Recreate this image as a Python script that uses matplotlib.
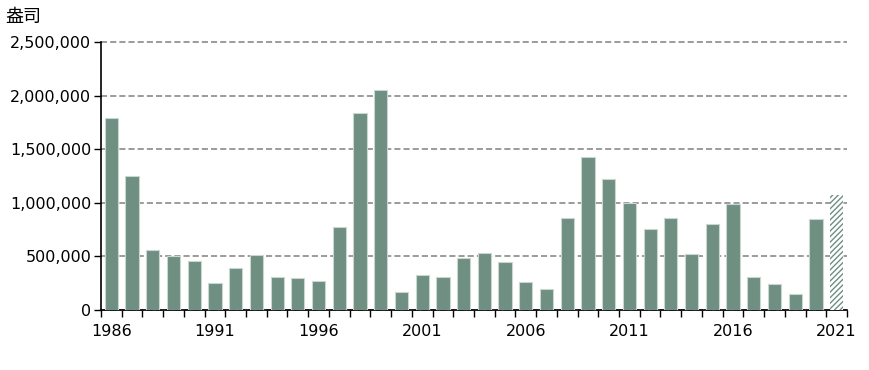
import matplotlib
matplotlib.use("Agg")
import matplotlib.pyplot as plt
import numpy as np
from matplotlib.ticker import FuncFormatter, MultipleLocator

plt.rcParams['font.family'] = ['DejaVu Sans', 'Noto Sans CJK SC']
plt.rcParams['hatch.linewidth'] = 1.0

years = list(range(1986, 2022))
values = [1790000, 1253000, 560000, 504000, 460000, 255000, 389000, 513000, 311000, 298000,
          274000, 771000, 1835000, 2055000, 165000, 323000, 311000, 485000, 535000, 448000,
          258000, 196000, 858000, 1430000, 1219000, 1001000, 753000, 855000, 522000, 799000,
          989000, 305000, 243000, 149000, 846000, 1073000]
forecast_year = 2021
unit_label = '盎司'

bar_color = '#6e8f82'

fig = plt.figure(figsize=(8.7, 3.7), dpi=100)
ax = fig.add_axes([101 / 870, 60 / 370, 746 / 870, 268 / 370])

x = np.arange(len(years))
for xi, yr, v in zip(x, years, values):
    if yr == forecast_year:
        ax.bar(xi, v, width=0.64, color='white', edgecolor=bar_color,
               hatch='//////', linewidth=0, zorder=3)
    else:
        ax.bar(xi, v, width=0.64, color=bar_color, edgecolor='#c9d7d0',
               linewidth=0.8, zorder=3)

ax.set_xlim(-0.5, len(years) - 0.5)
ax.set_ylim(0, 2500000)
ax.yaxis.set_major_locator(MultipleLocator(500000))
ax.yaxis.set_major_formatter(FuncFormatter(lambda v, p: f'{int(v):,}'))
ax.grid(axis='y', color='#808080', linestyle=(0, (4, 2)), linewidth=1.1, zorder=1)
ax.set_axisbelow(True)
for gl in ax.get_ygridlines():
    gl.set_clip_on(False)

label_idx = [i for i, yr in enumerate(years) if (yr - 1986) % 5 == 0]
ax.set_xticks(label_idx)
ax.set_xticklabels([str(years[i]) for i in label_idx])
ax.set_xticks(np.arange(-0.5, len(years)), minor=True)
ax.tick_params(axis='x', which='major', length=0, pad=10, labelsize=11.5)
ax.tick_params(axis='x', which='minor', length=5, width=1, color='black', direction='out')
ax.tick_params(axis='y', length=5, width=1, color='black', labelsize=11.5, pad=2)

for s in ['top', 'right']:
    ax.spines[s].set_visible(False)
for s in ['left', 'bottom']:
    ax.spines[s].set_color('black')
    ax.spines[s].set_linewidth(1.2)

fig.text(5 / 870, 1 - 17 / 370, unit_label, fontsize=13, va='center', ha='left')

fig.savefig('out.png', dpi=100)
